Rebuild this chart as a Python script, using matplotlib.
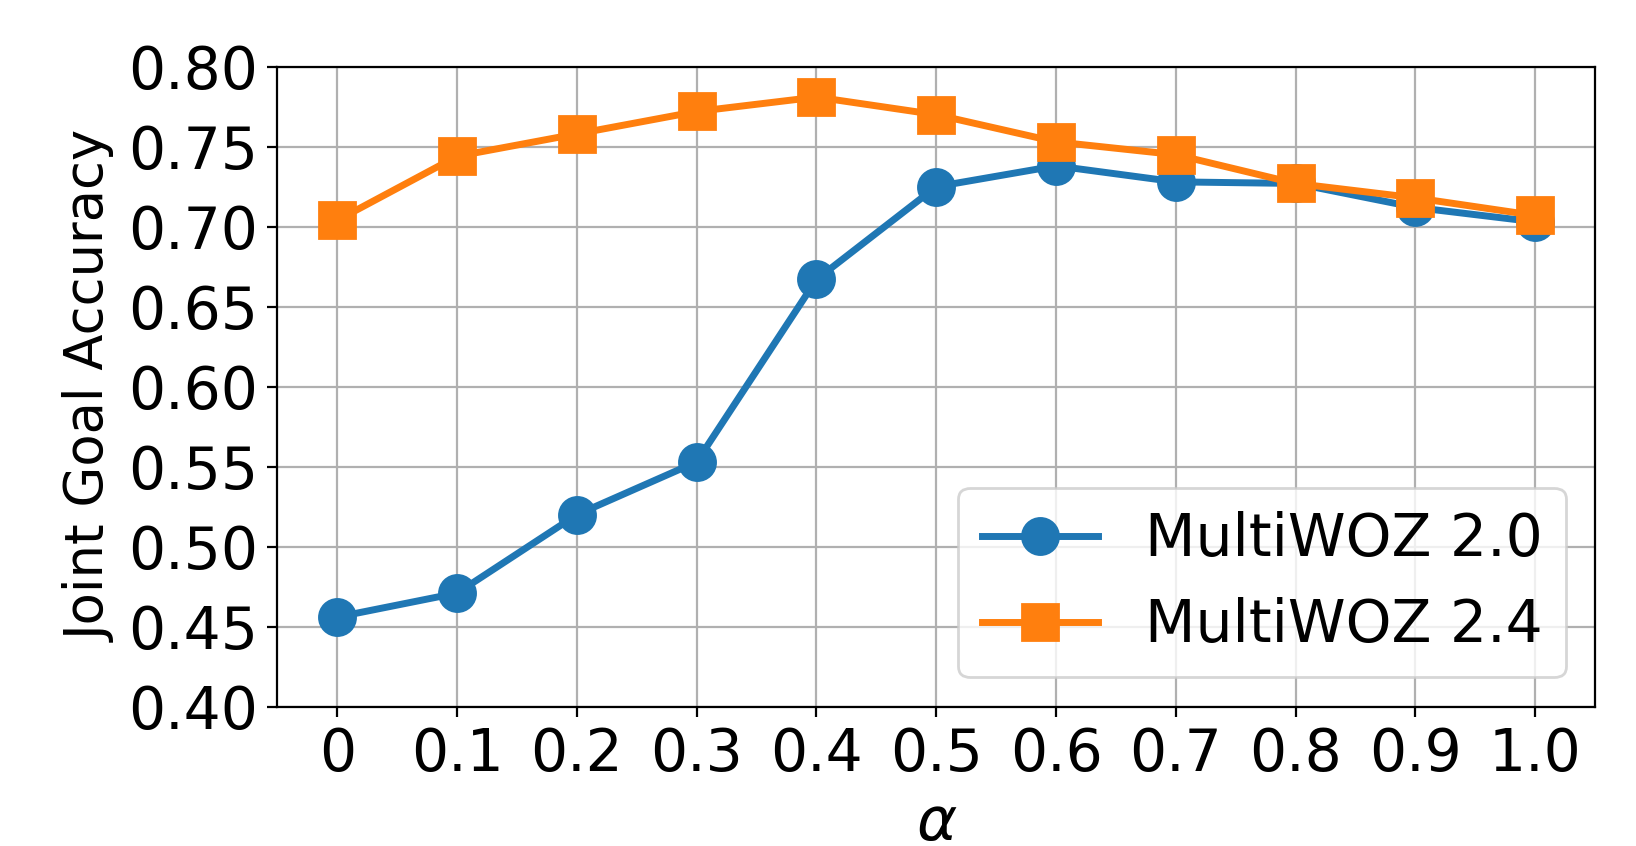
import matplotlib
matplotlib.use("Agg")
import matplotlib.pyplot as plt

alphas = [0.0, 0.1, 0.2, 0.3, 0.4, 0.5, 0.6, 0.7, 0.8, 0.9, 1.0]
alpha_labels = ["0", "0.1", "0.2", "0.3", "0.4", "0.5", "0.6", "0.7", "0.8", "0.9", "1.0"]
mwoz20 = [0.456, 0.471, 0.520, 0.553, 0.667, 0.725, 0.738, 0.728, 0.727, 0.712, 0.703]
mwoz24 = [0.704, 0.744, 0.758, 0.772, 0.781, 0.770, 0.753, 0.745, 0.727, 0.718, 0.707]
yticks = [0.40, 0.45, 0.50, 0.55, 0.60, 0.65, 0.70, 0.75, 0.80]

fig = plt.figure(figsize=(8.18, 4.23), dpi=200)
ax = fig.add_axes([0.1696, 0.1647, 0.975 - 0.1696, 0.9212 - 0.1647])

ax.plot(alphas, mwoz20, marker="o", ms=13, lw=2.5, color="#1f77b4", label="MultiWOZ 2.0")
ax.plot(alphas, mwoz24, marker="s", ms=13, lw=2.5, color="#ff7f0e", label="MultiWOZ 2.4")

ax.set_ylim(0.40, 0.80)
ax.set_yticks(yticks)
ax.set_yticklabels([f"{v:.2f}" for v in yticks])
ax.set_xticks(alphas)
ax.set_xticklabels(alpha_labels)
ax.tick_params(labelsize=21)
ax.grid(True)
ax.set_xlabel(r"$\alpha$", fontsize=22)
ax.set_ylabel("Joint Goal Accuracy", fontsize=19)
ax.legend(loc="lower right", fontsize=21)

fig.savefig("out.png", dpi=200)
